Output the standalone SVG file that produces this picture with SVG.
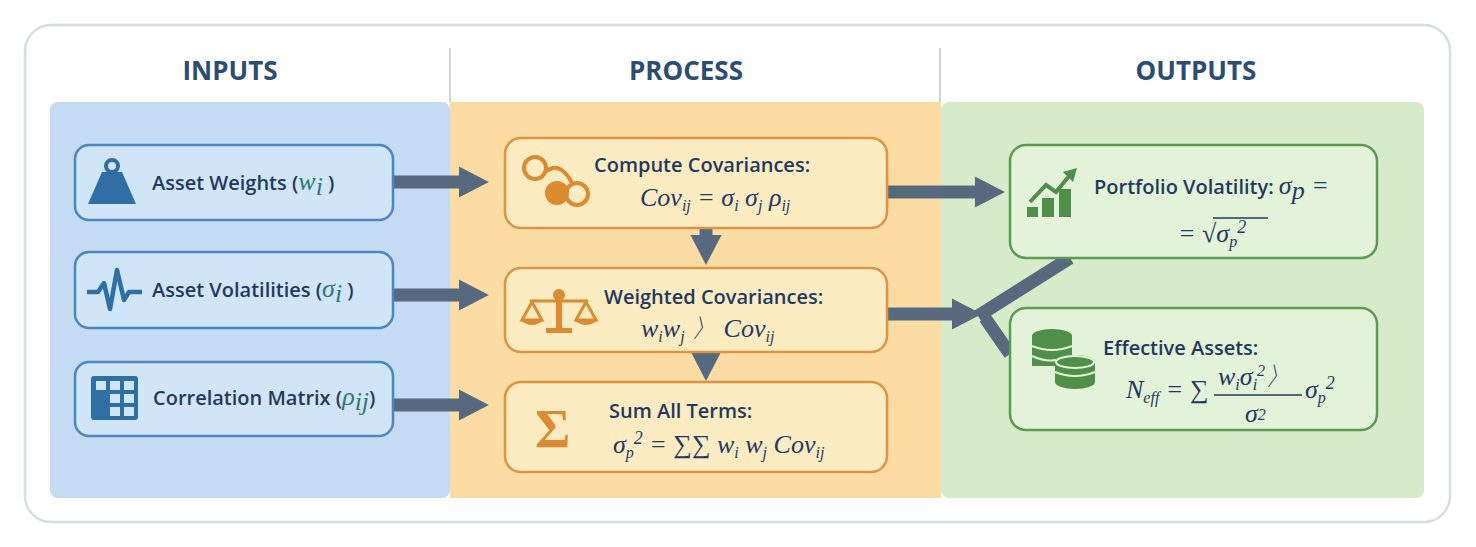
<svg xmlns="http://www.w3.org/2000/svg" width="1476" height="547" viewBox="0 0 1476 547">
<style>
.h{font-family:"Open Sans","Liberation Sans",sans-serif;font-weight:700;font-size:26px;fill:#2b4d75;text-anchor:middle}
.t{font-family:"Open Sans","Liberation Sans",sans-serif;font-weight:600;font-size:20px;fill:#1f3a5f}
.m{font-family:"Liberation Serif","DejaVu Serif",serif;font-style:italic;font-weight:400;font-size:26px;fill:#1f3a5f}
.g{fill:#2a7a70}
.ib{fill:#d0e5f8;stroke:#4a86c0;stroke-width:2.5}
.pb{fill:#fdebc2;stroke:#de9440;stroke-width:2.5}
.ob{fill:#e3f3d8;stroke:#5b9a52;stroke-width:2.5}
.ar{stroke:#56697f;stroke-width:13;fill:none}
.icb{fill:#2f6fa6}
.ico{fill:#de8a30}
.icg{fill:#4f8f4a}
</style>
<defs>
<marker id="ah" markerWidth="2.3" markerHeight="2.4" refX="1" refY="1.2" orient="auto" markerUnits="strokeWidth">
<path d="M0,0 L2.3,1.2 L0,2.4 Z" fill="#56697f"/>
</marker>
</defs>
<rect x="25" y="25" width="1425" height="497" rx="26" fill="#fff" stroke="#d8dce3" stroke-width="2.5"/>
<line x1="450" y1="48" x2="450" y2="102" stroke="#d0d4da" stroke-width="2"/>
<line x1="940" y1="48" x2="940" y2="102" stroke="#d0d4da" stroke-width="2"/>
<rect x="50" y="102" width="400" height="396" rx="8" fill="#c3dcf3"/>
<rect x="450" y="102" width="491" height="396" fill="#fcdca2"/>
<rect x="941" y="102" width="483" height="396" rx="8" fill="#d6ecc9"/>
<text class="h" x="230" y="80">INPUTS</text>
<text class="h" x="686" y="80">PROCESS</text>
<text class="h" x="1196" y="80">OUTPUTS</text>

<g id="connectors">
<line class="ar" x1="394" y1="182" x2="472" y2="182" marker-end="url(#ah)"/>
<line class="ar" x1="394" y1="295" x2="472" y2="295" marker-end="url(#ah)"/>
<line class="ar" x1="394" y1="405" x2="472" y2="405" marker-end="url(#ah)"/>
<line class="ar" x1="706" y1="229" x2="706" y2="248" marker-end="url(#ah)"/>
<line class="ar" x1="706" y1="353" x2="706" y2="364" marker-end="url(#ah)"/>
<line class="ar" x1="888" y1="192" x2="988" y2="192" marker-end="url(#ah)"/>
<line class="ar" x1="888" y1="314" x2="965" y2="314" marker-end="url(#ah)"/>
<line class="ar" x1="978" y1="316" x2="1070" y2="258"/>
<line class="ar" x1="985" y1="318" x2="1010" y2="354"/>
</g>

<g id="n-weights">
<rect class="ib" x="75" y="145" width="318" height="75" rx="14"/>
<circle cx="112" cy="166" r="6" fill="none" stroke="#2f6fa6" stroke-width="4"/>
<path class="icb" d="M102,172 L122,172 L136,204 L88,204 Z"/>
<text class="t" x="152" y="190">Asset Weights (<tspan class="m g">w</tspan><tspan class="m g" font-size="15" dy="5">i</tspan><tspan dy="-5"> )</tspan></text>
</g>
<g id="n-vols">
<rect class="ib" x="75" y="252" width="318" height="76" rx="14"/>
<path d="M87,292 L98,292 L104,283 L110,309 L117,270 L124,300 L129,292 L142,292" fill="none" stroke="#2f6fa6" stroke-width="4.5" stroke-linejoin="round"/>
<text class="t" x="152" y="297">Asset Volatilities (<tspan class="m g">σ</tspan><tspan class="m g" font-size="15" dy="5">i</tspan><tspan dy="-5"> )</tspan></text>
</g>
<g id="n-corr">
<rect class="ib" x="75" y="362" width="318" height="74" rx="14"/>
<rect class="icb" x="91" y="376" width="47" height="44" rx="3"/>
<g fill="#d0e5f8">
<rect x="96" y="381" width="10" height="9"/><rect x="110" y="381" width="10" height="9"/><rect x="124" y="381" width="10" height="9"/>
<rect x="110" y="394" width="10" height="9"/><rect x="124" y="394" width="10" height="9"/>
<rect x="110" y="407" width="10" height="9"/><rect x="124" y="407" width="10" height="9"/>
</g>
<text class="t" x="153" y="405">Correlation Matrix (<tspan class="m g">ρ</tspan><tspan class="m g" font-size="15" dy="5">ij</tspan><tspan dy="-5">)</tspan></text>
</g>

<g id="n-cov">
<rect class="pb" x="505" y="138" width="382" height="90" rx="16"/>
<circle cx="535" cy="168" r="11" fill="none" stroke="#de8a30" stroke-width="4"/>
<circle cx="557" cy="193" r="12" class="ico"/>
<circle cx="577" cy="194" r="11" fill="none" stroke="#de8a30" stroke-width="4"/>
<path d="M545,172 Q560,160 572,183" fill="none" stroke="#de8a30" stroke-width="4"/>
<text class="t" x="594" y="172">Compute Covariances:</text>
<text class="m" x="640" y="206">Cov<tspan font-size="16" dy="5">ij</tspan><tspan dy="-5"> = σ</tspan><tspan font-size="16" dy="5">i</tspan><tspan dy="-5"> σ</tspan><tspan font-size="16" dy="5">j</tspan><tspan dy="-5">  ρ</tspan><tspan font-size="16" dy="5">ij</tspan></text>
</g>
<g id="n-wcov">
<rect class="pb" x="505" y="268" width="382" height="84" rx="16"/>
<circle cx="559" cy="295" r="6" class="ico"/>
<rect x="556" y="295" width="6" height="36" class="ico"/>
<rect x="546" y="328" width="26" height="5" class="ico"/>
<line x1="530" y1="301" x2="588" y2="301" stroke="#de8a30" stroke-width="3"/>
<path d="M532,302 L522,320 L542,320 Z M586,302 L576,320 L596,320 Z" fill="none" stroke="#de8a30" stroke-width="3"/>
<path d="M520,320 L544,320 Q532,330 520,320 Z M574,320 L598,320 Q586,330 574,320 Z" class="ico"/>
<text class="t" x="604" y="304">Weighted Covariances:</text>
<text class="m" x="641" y="337">w<tspan font-size="16" dy="5">i</tspan><tspan dy="-5">w</tspan><tspan font-size="16" dy="5">j</tspan><tspan dy="-5"> 〉 Cov</tspan><tspan font-size="16" dy="5">ij</tspan></text>
</g>
<g id="n-sum">
<rect class="pb" x="505" y="382" width="382" height="90" rx="16"/>
<text x="535" y="447" font-family="Liberation Serif,serif" font-size="54" font-weight="700" fill="#de8a30">Σ</text>
<text class="t" x="609" y="418">Sum All Terms:</text>
<text class="m" x="613" y="453">σ<tspan font-size="16" dy="5">p</tspan><tspan font-size="18" dy="-14">2</tspan><tspan dy="9"> = ∑∑ w</tspan><tspan font-size="16" dy="5">i</tspan><tspan dy="-5"> w</tspan><tspan font-size="16" dy="5">j</tspan><tspan dy="-5"> Cov</tspan><tspan font-size="16" dy="5">ij</tspan></text>
</g>

<g id="n-pvol">
<rect class="ob" x="1010" y="145" width="367" height="113" rx="16"/>
<rect x="1027" y="207" width="11" height="10" class="icg"/>
<rect x="1042" y="198" width="12" height="19" class="icg"/>
<rect x="1059" y="189" width="12" height="28" class="icg"/>
<path d="M1030,202 L1046,185 L1056,192 L1070,175" fill="none" stroke="#4f8f4a" stroke-width="4"/>
<path d="M1063,172 L1077,168 L1073,182 Z" class="icg"/>
<text class="t" x="1094" y="194">Portfolio Volatility: <tspan class="m">σ</tspan><tspan class="m" font-size="16" dy="5">p</tspan><tspan class="m" dy="-5"> =</tspan></text>
<text class="m" x="1178" y="242">= √σ<tspan font-size="16" dy="5">p</tspan><tspan font-size="18" dy="-14">2</tspan></text>
<line x1="1213" y1="218" x2="1268" y2="218" stroke="#1f3a5f" stroke-width="1.5"/>
</g>
<g id="n-eff">
<rect class="ob" x="1010" y="308" width="367" height="122" rx="16"/>
<g fill="#4f8f4a">
<ellipse cx="1052" cy="336" rx="20" ry="7"/>
<rect x="1032" y="336" width="40" height="30"/>
<ellipse cx="1075" cy="362" rx="20" ry="7"/>
<rect x="1055" y="362" width="40" height="20"/>
<ellipse cx="1075" cy="382" rx="20" ry="7"/>
</g>
<g stroke="#e3f3d8" stroke-width="2" fill="none">
<path d="M1032,346 Q1052,354 1072,346 M1032,356 Q1045,362 1056,360 M1055,372 Q1075,380 1095,372"/>
<ellipse cx="1075" cy="362" rx="19" ry="6"/>
</g>
<text class="t" x="1103" y="355">Effective Assets:</text>
<text class="m" x="1126" y="398">N<tspan font-size="16" dy="5">eff</tspan><tspan dy="-5"> = ∑</tspan></text>
<text class="m" x="1218" y="385">w<tspan font-size="16" dy="5">i</tspan><tspan dy="-5">σ</tspan><tspan font-size="16" dy="5">i</tspan><tspan font-size="16" dy="-14">2</tspan><tspan dy="9">〉</tspan></text>
<line x1="1214" y1="395" x2="1302" y2="395" stroke="#1f3a5f" stroke-width="1.5"/>
<text class="m" x="1245" y="422">σ<tspan font-size="16" dy="-2">2</tspan></text>
<text class="m" x="1305" y="398">σ<tspan font-size="16" dy="5">p</tspan><tspan font-size="18" dy="-14">2</tspan></text>
</g>
</svg>
